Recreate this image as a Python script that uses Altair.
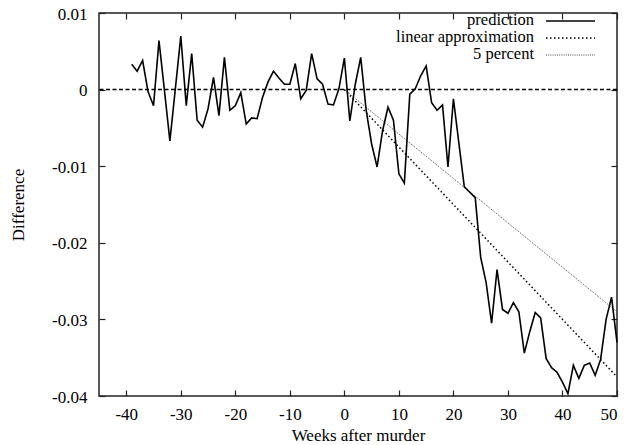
import altair as alt
import pandas as pd

# ---- data ----
weeks = list(range(-39, 51))
prediction = [
    0.0033, 0.0024, 0.0038, -0.0003, -0.0021, 0.0064, -0.0001, -0.0067, 0.0001, 0.0070,
    -0.0021, 0.0047, -0.0040, -0.0049, -0.0025, 0.0016, -0.0034, 0.0042, -0.0027, -0.0021,
    -0.0004, -0.0045, -0.0037, -0.0038, -0.0010, 0.0010, 0.0024, 0.0015, 0.0007, 0.0007,
    0.0034, -0.0012, -0.0001, 0.0047, 0.0014, 0.0007, -0.0019, -0.0020, 0.0001,
    0.0041, -0.0041, 0.0007, 0.0042, -0.0027, -0.0071, -0.0101, -0.0054, -0.0023, -0.0040,
    -0.0110, -0.0122, -0.0006, 0.0001, 0.0018, 0.0031, -0.0017, -0.0027, -0.0020, -0.0101,
    -0.0012, -0.0070, -0.0127, -0.0134, -0.0141, -0.0219, -0.0252, -0.0305, -0.0235, -0.0287,
    -0.0292, -0.0278, -0.0290, -0.0344, -0.0316, -0.0291, -0.0298, -0.0351, -0.0363, -0.0369,
    -0.0382, -0.0397, -0.0360, -0.0377, -0.0360, -0.0357, -0.0373, -0.0352, -0.0300, -0.0271,
    -0.0330,
]
approx_weeks = [0, 50]
linear_approx = [0.0, -0.0375]
five_percent = [0.0, -0.029]
zero_level = [0.0]
x_ticks = [-40, -30, -20, -10, 0, 10, 20, 30, 40, 50]
y_ticks = [0.01, 0.0, -0.01, -0.02, -0.03, -0.04]
legend_labels = ["prediction", "linear approximation", "5 percent"]

FONT = "Liberation Serif"
FS = 17
W, H = 518, 383

pred_df = pd.DataFrame({"week": weeks, "value": prediction})
lin_df = pd.DataFrame({"week": approx_weeks, "value": linear_approx})
five_df = pd.DataFrame({"week": approx_weeks, "value": five_percent})
zero_df = pd.DataFrame({"value": zero_level})

x_scale = alt.Scale(domain=[-45, 50], nice=False, zero=False)
y_scale = alt.Scale(domain=[-0.04, 0.01], nice=False, zero=False)

common_axis = dict(
    grid=False, domain=False, tickSize=6, offset=-6, tickColor="#222", tickWidth=1.2,
    labelFont=FONT, labelFontSize=FS, labelColor="black",
    titleFont=FONT, titleFontSize=FS, titleFontWeight="normal", titleColor="black",
)

x_axis = alt.Axis(
    orient="bottom", values=x_ticks, title="Weeks after murder",
    labelPadding=10, labelExpr="'' + datum.value",
    titleX=W / 2, titleY=45, titleBaseline="middle", titleAlign="center",
    **common_axis,
)
y_axis = alt.Axis(
    orient="left", values=y_ticks, title="Difference",
    labelPadding=12, labelOffset=1,
    labelExpr="datum.value == 0 ? '0' : '' + (round(datum.value * 100) / 100)",
    titleX=-87, titleY=H / 2, titleAngle=-90, titleBaseline="middle", titleAlign="center",
    **common_axis,
)
x_axis_top = alt.Axis(orient="top", values=x_ticks, labels=False, title=None, **common_axis)
y_axis_right = alt.Axis(orient="right", values=y_ticks, labels=False, title=None, **common_axis)

pred = alt.Chart(pred_df).mark_line(color="black", strokeWidth=1.6).encode(
    x=alt.X("week:Q", scale=x_scale, axis=x_axis),
    y=alt.Y("value:Q", scale=y_scale, axis=y_axis),
)

lin = alt.Chart(lin_df).mark_line(color="black", strokeWidth=1.5, strokeDash=[1.5, 2.5]).encode(
    x=alt.X("week:Q", scale=x_scale, axis=x_axis_top),
    y=alt.Y("value:Q", scale=y_scale, axis=y_axis_right),
)

five = alt.Chart(five_df).mark_line(color="#444", strokeWidth=1, strokeDash=[1, 1.2]).encode(
    x=alt.X("week:Q", scale=x_scale, axis=None),
    y=alt.Y("value:Q", scale=y_scale, axis=None),
)

zero = alt.Chart(zero_df).mark_rule(color="black", strokeWidth=1.5, strokeDash=[4, 2.5]).encode(
    y=alt.Y("value:Q", scale=y_scale, axis=None),
)

# ---- legend (top right, labels right-aligned, sample to the right) ----
leg_x_text = 435
leg_x1, leg_x2 = 447, 496
rows = [7, 24, 41]
styles = [
    dict(color="black", strokeWidth=1.5),
    dict(color="black", strokeWidth=1.3, strokeDash=[1.5, 2.5]),
    dict(color="#444", strokeWidth=1, strokeDash=[1, 1.2]),
]
legend_layers = []
for label, ry, st in zip(legend_labels, rows, styles):
    legend_layers.append(
        alt.Chart(pd.DataFrame({"label": [label]})).mark_text(
            font=FONT, fontSize=16.5, align="right", baseline="middle", color="black"
        ).encode(text="label:N", x=alt.value(leg_x_text), y=alt.value(ry))
    )
    legend_layers.append(
        alt.Chart(pd.DataFrame({"label": [label]})).mark_rule(**st).encode(
            x=alt.value(leg_x1), x2=alt.value(leg_x2), y=alt.value(ry + 1)
        )
    )

chart = (
    alt.layer(zero, five, lin, pred, *legend_layers)
    .resolve_axis(x="independent", y="independent")
    .properties(
        width=W, height=H,
        autosize=alt.AutoSizeParams(type="none"),
        padding={"left": 91, "top": 5, "right": 5, "bottom": 49},
        background="white",
    )
    .configure_view(stroke="#222", strokeWidth=1.5)
)

chart.save("out.html", embed_options={"renderer": "svg", "actions": False})
